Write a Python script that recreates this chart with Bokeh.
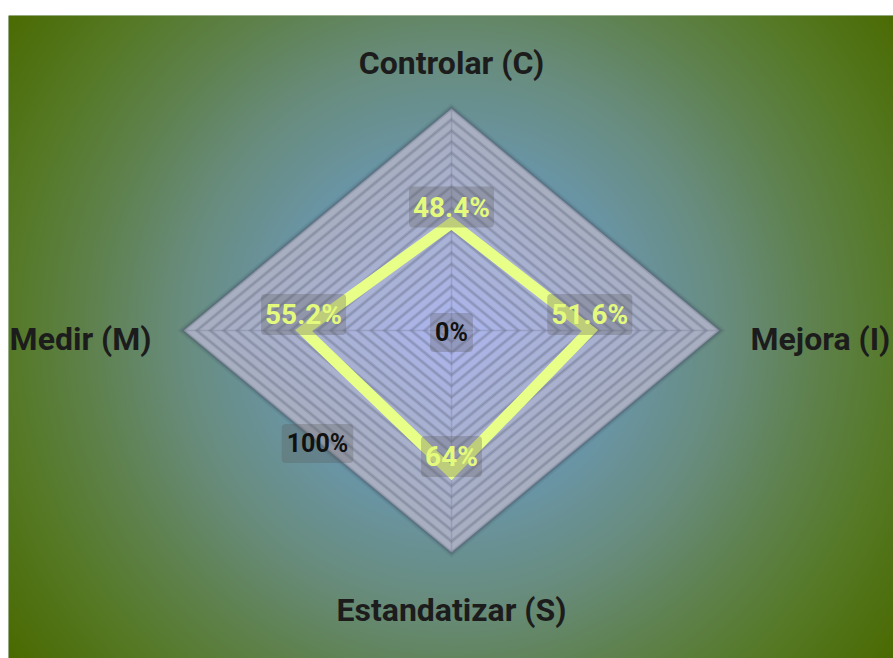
import numpy as np
from bokeh.plotting import figure
from bokeh.models import ColumnDataSource, Spacer
from bokeh.layouts import column, row
from bokeh.core.properties import value
from bokeh.embed import file_html
from bokeh.resources import INLINE

# ---- data ----
categories = ["Controlar (C)", "Mejora (I)", "Estandatizar (S)", "Medir (M)"]
values = [48.4, 51.6, 64.0, 55.2]
value_labels = ["48.4%", "51.6%", "64%", "55.2%"]
radial_ticks = [0, 100]
radial_tick_labels = ["0%", "100%"]
levels = 20

# ---- geometry helpers ----
angles = np.deg2rad([90, 0, 270, 180])
cx, cy = np.cos(angles), np.sin(angles)

W, H = 885, 643
RX, RY = 268.0, 222.0          # pixel radius per 100%
CXP, CYP = 443.0, 315.0         # center in figure pixels (from top-left)
x0, x1 = -CXP / RX, (W - CXP) / RX
y0, y1 = -(H - CYP) / RY, CYP / RY

p = figure(width=W, height=H, x_range=(x0, x1), y_range=(y0, y1),
           output_backend="svg", toolbar_location=None, min_border=0)
p.axis.visible = False
p.grid.visible = False
p.outline_line_color = None
p.background_fill_color = "#5f8250"
p.border_fill_color = "#5f8250"

# ---- radial background gradient ----
gw, gh = W // 2, H // 2 + 1
xx, yy = np.meshgrid(np.arange(gw) * 2.0, np.arange(gh) * 2.0)
d = np.sqrt((xx - CXP) ** 2 + (yy - CYP) ** 2) / np.sqrt(CXP ** 2 + (H - CYP) ** 2)
d = np.clip(d, 0, 1)
stops_t = [0.0, 0.3, 0.5, 0.65, 0.8, 1.0]
stops_c = ["#7eaad4", "#6a96aa", "#688c7c", "#5f8250", "#567a28", "#4a6a00"]
rgbs = np.array([[int(c[i:i + 2], 16) for i in (1, 3, 5)] for c in stops_c], float)
img = np.zeros((gh, gw), dtype=np.uint32)
view = img.view(dtype=np.uint8).reshape((gh, gw, 4))
for ch in range(3):
    view[:, :, ch] = np.interp(d, stops_t, rgbs[:, ch]).astype(np.uint8)
view[:, :, 3] = 255
img = img[::-1]
p.image_rgba(image=[img], x=x0, y=y0, dw=x1 - x0, dh=y1 - y0)

# ---- grid (split areas) ----
outer = np.array([0xa8, 0xaf, 0xc0], float)
inner = np.array([0xac, 0xb6, 0xf0], float)
# soft outer shadow
for w_, a_ in [(8, 0.07), (5, 0.09), (3, 0.11)]:
    p.patch(list(cx * 1.0), list(cy * 1.0), fill_color=None,
            line_color="#2a3440", line_alpha=a_, line_width=w_, line_join="miter")
for k in range(levels, 0, -1):
    r = k / levels
    f = (k - 1) / (levels - 1)
    col = inner + (outer - inner) * f ** 0.8
    hexcol = "#%02x%02x%02x" % tuple(int(v) for v in col)
    p.patch(list(cx * r), list(cy * r), fill_color=hexcol,
            line_color="#5d6579", line_alpha=0.22, line_width=3.5, line_join="miter")
    p.patch(list(cx * r), list(cy * r), fill_color=None,
            line_color="#5d6579", line_alpha=0.25, line_width=1.2, line_join="miter")
# spokes
for i in range(4):
    p.line([0, cx[i]], [0, cy[i]], line_color="#6d7589", line_alpha=0.3, line_width=1.5)

# ---- data polygon ----
vals = np.array(values) / 100.0
p.patch(list(cx * vals), list(cy * vals), fill_color=None,
        line_color="#e8ff88", line_width=11, line_join="miter")

# ---- value labels ----
src = ColumnDataSource(dict(x=cx * vals, y=cy * vals, t=value_labels))
p.text(x="x", y="y", text="t", source=src, text_align="center", text_baseline="middle",
       y_offset=-16, text_color="#e4fa7c", text_font=value("Roboto"),
       text_font_style="bold", text_font_size="28px",
       background_fill_color="#5a5a5a", background_fill_alpha=0.3,
       padding=4, border_radius=4)

# ---- radial tick labels (along lower-left edge midpoint direction) ----
tv = np.array(radial_ticks) / 100.0
tsrc = ColumnDataSource(dict(x=-0.5 * tv, y=-0.5 * tv, t=radial_tick_labels))
p.text(x="x", y="y", text="t", source=tsrc, text_align="center", text_baseline="middle",
       y_offset=2, text_color="#111111", text_font=value("Roboto"),
       text_font_style="bold", text_font_size="25px",
       background_fill_color="#5a5a5a", background_fill_alpha=0.3,
       padding=5, border_radius=4)

# ---- axis names ----
xo = [0, 31, 0, -32]
yo = [-46, 8, 57, 8]
al = ["center", "left", "center", "right"]
nsrc = ColumnDataSource(dict(x=cx, y=cy, t=categories, xo=xo, yo=yo, al=al))
p.text(x="x", y="y", text="t", source=nsrc, x_offset="xo", y_offset="yo",
       text_align="al", text_baseline="middle", text_color="#1c1c1c",
       text_font=value("Roboto"), text_font_style="bold", text_font_size="32px")

layout = column(Spacer(height=15), row(Spacer(width=8), p, spacing=0), spacing=0)
open("out.html", "w").write(file_html(layout, INLINE))
